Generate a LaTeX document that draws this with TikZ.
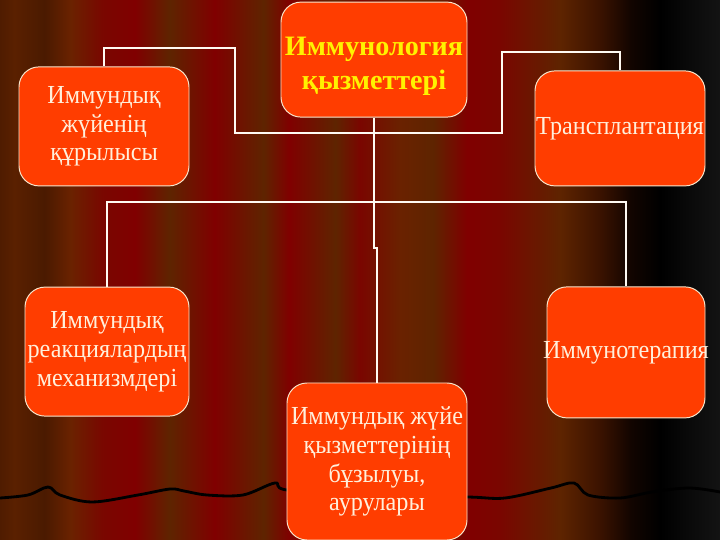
\documentclass[tikz,border=0pt]{standalone}
\usepackage{fontspec}
\setmainfont{Liberation Serif}
\newfontfamily\boxfont[FakeStretch=0.93]{Liberation Serif}
\usepackage{xcolor}
\usepackage{tikz}
\definecolor{BoxRed}{HTML}{FF3D00}
\definecolor{BoxEdge}{HTML}{F8E6CC}
\definecolor{TitleYellow}{HTML}{FFF200}
\definecolor{LabelCream}{HTML}{FFF0DC}
\definecolor{LinkWhite}{HTML}{FFFAF2}
\definecolor{CurtDeep}{HTML}{4F1C00}
\definecolor{CurtUmber}{HTML}{5A2000}
\definecolor{CurtDark}{HTML}{4A1A00}
\definecolor{CurtRust}{HTML}{6A2200}
\definecolor{CurtWine}{HTML}{7A0600}
\definecolor{CurtRed}{HTML}{800000}
\definecolor{CurtBrown}{HTML}{5E2400}
\definecolor{CurtShadow}{HTML}{3A1200}
\definecolor{CurtNight}{HTML}{120500}
\definecolor{CurtSoot}{HTML}{0A0A0A}
\definecolor{CurtGrey}{HTML}{131313}
\pgfdeclarehorizontalshading{curtain}{100bp}{%
  color(0bp)=(CurtDeep); color(25bp)=(CurtDeep); color(26bp)=(CurtUmber);%
  color(28.1bp)=(CurtDark); color(29.9bp)=(CurtRust); color(32.2bp)=(CurtWine);%
  color(34.4bp)=(CurtRed); color(36.8bp)=(CurtBrown); color(39.9bp)=(CurtRed);%
  color(43.3bp)=(CurtBrown); color(45.1bp)=(CurtRed); color(48.3bp)=(CurtBrown);%
  color(50bp)=(CurtWine); color(52.8bp)=(CurtRust); color(55.1bp)=(CurtBrown);%
  color(57.4bp)=(CurtRed); color(59.7bp)=(CurtWine); color(63.9bp)=(CurtBrown);%
  color(66.7bp)=(CurtShadow); color(68.8bp)=(CurtNight); color(70.8bp)=(black);%
  color(72.9bp)=(CurtSoot); color(75bp)=(CurtGrey); color(100bp)=(CurtGrey)}
\tikzset{
  % riquadri arancioni
  box/.style={draw=BoxEdge,line width=0.7pt,fill=BoxRed,rounded corners=0.5cm,
    inner xsep=-6pt,inner ysep=0pt,align=center,text=LabelCream,
    font=\boxfont\fontsize{18.5}{20.5}\selectfont},
  box title/.style={box,text=TitleYellow,font=\bfseries\fontsize{20}{24}\selectfont},
  % linee di collegamento
  link/.style={LinkWhite,line width=1.3pt},
  hem/.style={black,line width=2pt,line join=round}
}
\begin{document}
\begin{tikzpicture}
    \shade[shading=curtain] (0,0) rectangle (18,13.5);
    \useasboundingbox (0,0) rectangle (18,13.5);
    \draw[hem] plot[smooth,tension=0.55] coordinates {(0,1.05) (0.7,1.125) (1.2,1.325)
      (1.5,1.125) (2.3,0.95) (3.45,1.125) (4.25,1.275) (4.6,1.225) (5.175,1.125)
      (6.075,1.125) (6.875,1.425) (7.175,1.25) (9.4,1.1) (11.675,1.075) (12.625,1.05)
      (13.775,1.3) (14.35,1.425) (14.7,1.125) (15.5,1.05) (16.3,1.2) (17.225,1.3) (18,1.2)};
    \node[box title,minimum width=4.65cm,minimum height=2.875cm] (func) at (9.35,12.01) {\rule{0pt}{23pt}Иммунология\\қызметтері};
    \node[box,minimum width=4.25cm,minimum height=2.975cm] (struct) at (2.6,10.34) {Иммундық\\жүйенің\\құрылысы};
    \node[box,minimum width=4.25cm,minimum height=2.875cm] (transpl) at (15.5,10.29) {Трансплантация};
    \node[box,minimum width=4.1cm,minimum height=3.225cm] (mech) at (2.675,4.71) {Иммундық\\реакциялардың\\механизмдері};
    \node[box,minimum width=3.95cm,minimum height=3.275cm] (therapy) at (15.65,4.69) {Иммунотерапия};
    \node[box,minimum width=4.5cm,minimum height=3.925cm] (disorder) at (9.425,1.9625) {Иммундық жүйе\\қызметтерінің\\бұзылуы,\\аурулары};
    \coordinate (hub) at (9.35,10.175);
    \coordinate (bus) at (9.35,8.45);
    \coordinate (jog) at (9.35,7.3);
    \coordinate (lt) at (5.875,12.3);
    \coordinate (rt) at (12.55,12.2);
    \draw[link] (func.south) -- (jog) -| (disorder.north);
    \draw[link] (struct.north) |- (lt) |- (hub) -| (rt) -| (transpl.north);
    \draw[link] (mech.north) |- (bus) -| (therapy.north);
\end{tikzpicture}
\end{document}
